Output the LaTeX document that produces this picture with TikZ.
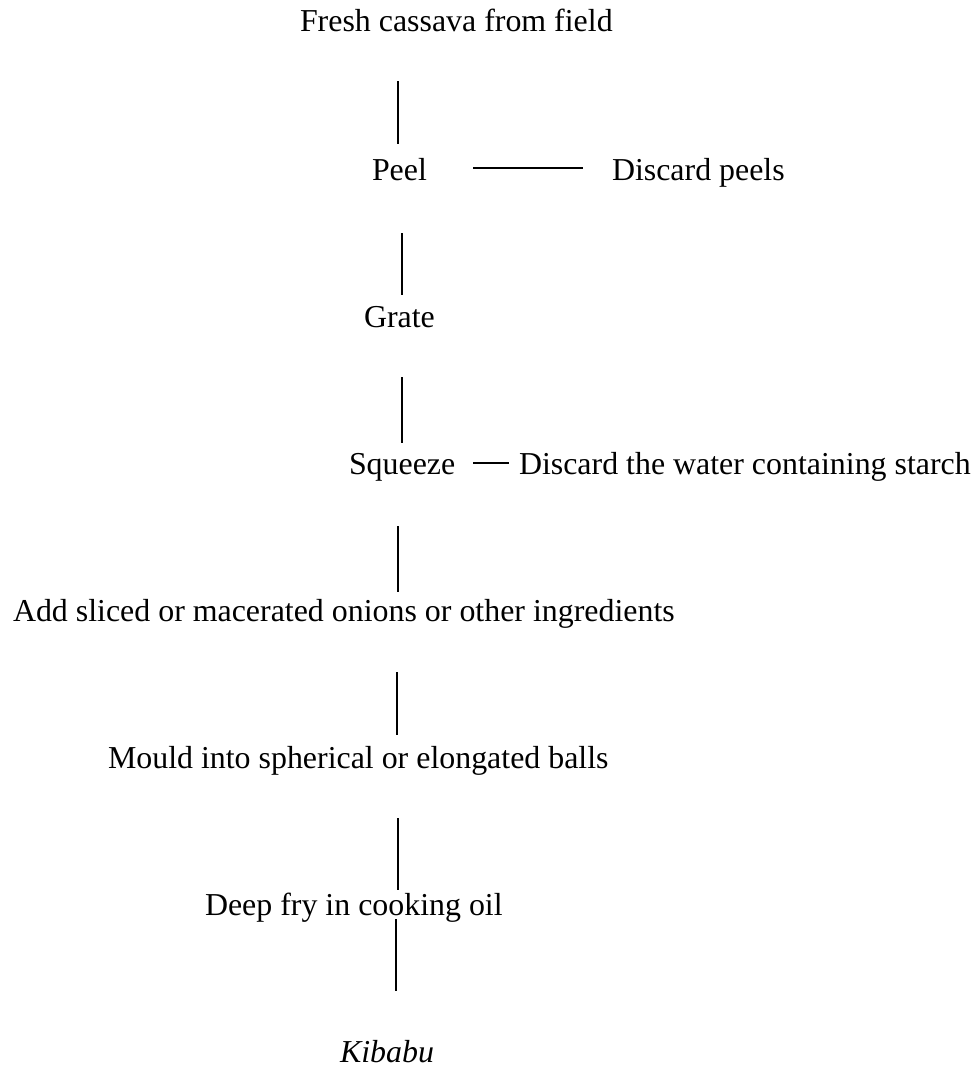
\documentclass[tikz,border=0pt]{standalone}
\usepackage{fontspec}
\setmainfont{Liberation Serif}
\begin{document}
\begin{tikzpicture}[x=1pt,y=-1pt,
  lbl/.style={anchor=base west,inner sep=0pt,outer sep=0pt,font=\fontsize{31.9pt}{38pt}\selectfont},
  conn/.style={draw=black,line width=1.9pt}]
\useasboundingbox (0,0) rectangle (978,1065);
% texts
\node[lbl] (fresh) at (300,32) {Fresh cassava from field};
\node[lbl] (peel) at (372,180) {Peel};
\node[lbl] (discpeel) at (612,180) {Discard peels};
\node[lbl] (grate) at (364,327) {Grate};
\node[lbl] (squeeze) at (349,474) {Squeeze};
\node[lbl] (discwater) at (519,474) {Discard the water containing starch};
\node[lbl] (add) at (13,621) {Add sliced or macerated onions or other ingredients};
\node[lbl] (mould) at (108,768) {Mould into spherical or elongated balls};
\node[lbl] (fry) at (205,915) {Deep fry in cooking oil};
\node[lbl,text depth=0pt] (kibabu) at (340,1062) {\itshape Kibabu};
% connector end points
\coordinate (c1a) at (398,81);  \coordinate (c1b) at (398,144);
\coordinate (h1a) at (473,168); \coordinate (h1b) at (583,168);
\coordinate (c2a) at (402,233); \coordinate (c2b) at (402,295);
\coordinate (c3a) at (402,377); \coordinate (c3b) at (402,443);
\coordinate (h2a) at (473,463); \coordinate (h2b) at (509,463);
\coordinate (c4a) at (398,526); \coordinate (c4b) at (398,592);
\coordinate (c5a) at (397,672); \coordinate (c5b) at (397,735);
\coordinate (c6a) at (398,818); \coordinate (c6b) at (398,890);
\coordinate (c7a) at (396,919); \coordinate (c7b) at (396,991);
% connectors
\draw[conn] (c1a) -- (c1b);
\draw[conn] (h1a) -- (h1b);
\draw[conn] (c2a) -- (c2b);
\draw[conn] (c3a) -- (c3b);
\draw[conn] (h2a) -- (h2b);
\draw[conn] (c4a) -- (c4b);
\draw[conn] (c5a) -- (c5b);
\draw[conn] (c6a) -- (c6b);
\draw[conn] (c7a) -- (c7b);
\end{tikzpicture}
\end{document}
